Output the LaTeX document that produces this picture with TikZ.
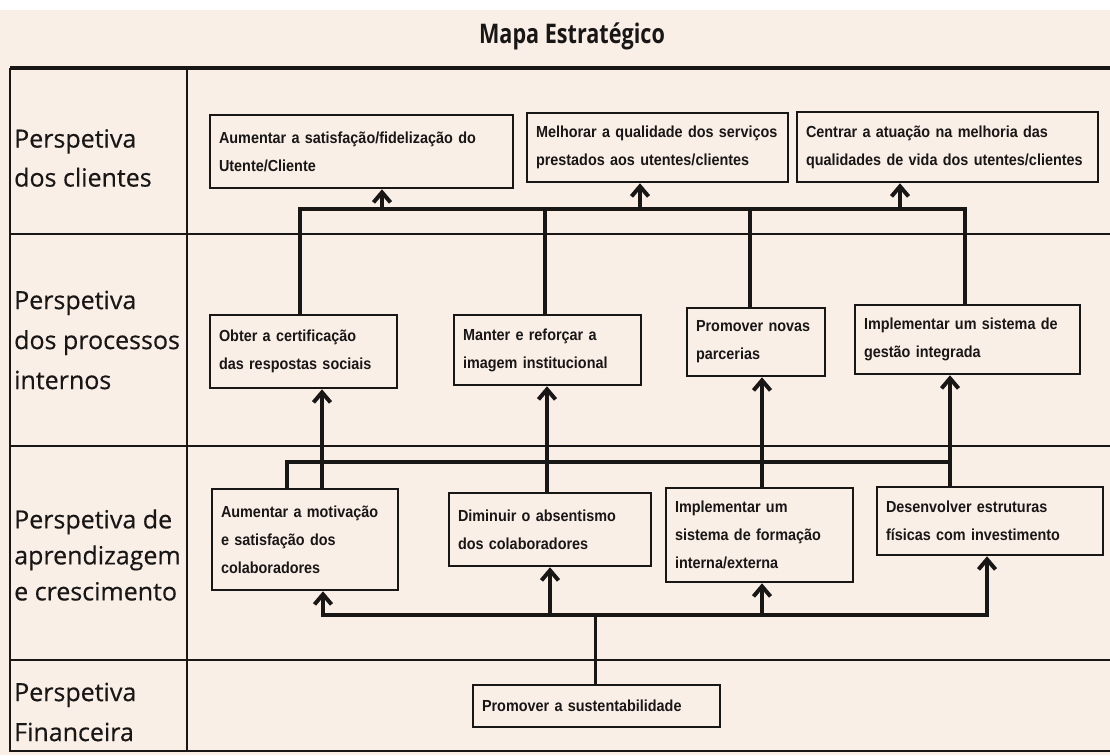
\documentclass[tikz,border=0pt]{standalone}
\usepackage{fontspec}
\setmainfont{Liberation Sans}
\newfontfamily\labfont{Open Sans}[FakeBold=0.4]
\newfontfamily\titfont{Open Sans}[FakeStretch=0.8]
\newfontfamily\bxfont{Liberation Sans}[FakeStretch=0.9]
\usetikzlibrary{arrows.meta}
\definecolor{paper}{RGB}{249,239,231}
\definecolor{ink}{RGB}{25,22,22}
\begin{document}
\begin{tikzpicture}[x=1pt,y=-1pt,
  tline/.style={draw=ink,line width=2.8pt},
  box/.style={draw=ink,line width=2.6pt,align=left,inner xsep=9pt,inner ysep=0pt,text=ink,
    font=\bxfont\bfseries\fontsize{16}{28}\selectfont},
  lab/.style={anchor=west,align=left,inner sep=0pt,text=ink},
  conn/.style={draw=ink,line width=4pt,line join=miter},
  arr/.style={conn,-{Straight Barb[length=10pt,width=17pt]}}]
\useasboundingbox (0,0) rectangle (1110,755);
\fill[paper] (0,10) rectangle (1110,755);
\fill[white] (0,0) rectangle (1110,10);

% table
\draw[tline,line width=3.6pt] (10,68) -- (1110,68);
\draw[tline] (10,68) -- (10,752);
\draw[tline] (187,68) -- (187,752);
\draw[tline] (10,234) -- (1110,234);
\draw[tline] (10,446) -- (1110,446);
\draw[tline] (10,660) -- (1110,660);
\draw[tline] (10,751) -- (1110,751);

% title
\node[text=ink,font=\titfont\bfseries\fontsize{27}{30}\selectfont] (title) at (572,36) {Mapa Estratégico};

% row labels
\node[lab,font=\labfont\fontsize{25}{39}\selectfont] (lab1) at (14,158) {Perspetiva\\dos clientes};
\node[lab,font=\labfont\fontsize{25}{40}\selectfont] (lab2) at (14,340) {Perspetiva\\dos processos\\internos};
\node[lab,font=\labfont\fontsize{25}{36}\selectfont] (lab3) at (14,555) {Perspetiva de\\aprendizagem\\e crescimento};
\node[lab,font=\labfont\fontsize{25}{40}\selectfont] (lab4) at (14,712) {Perspetiva\\Financeira};

% boxes
\node[box,minimum height=73pt,text width=285pt] (a1) at (361.5,151.5) {\mbox{Aumentar a satisfação/fidelização do}\\\mbox{Utente/Cliente}};
\node[box,minimum height=69pt,text width=243pt] (a2) at (657.5,147.5) {\mbox{Melhorar a qualidade dos serviços}\\\mbox{prestados aos utentes/clientes}};
\node[box,minimum height=70pt,text width=283pt] (a3) at (947.5,147) {\mbox{Centrar a atuação na melhoria das}\\\mbox{qualidades de vida dos utentes/clientes}};

\node[box,minimum height=73pt,text width=169pt] (b1) at (303.5,351.5) {\mbox{Obter a certificação}\\\mbox{das respostas sociais}};
\node[box,minimum height=70pt,text width=169pt] (b2) at (547.5,350) {\mbox{Manter e reforçar a}\\\mbox{imagem institucional}};
\node[box,minimum height=68pt,text width=120pt] (b3) at (756,342) {\mbox{Promover novas}\\\mbox{parcerias}};
\node[box,minimum height=69pt,text width=207pt] (b4) at (967.5,339.5) {\mbox{Implementar um sistema de}\\\mbox{gestão integrada}};

\node[box,minimum height=101pt,text width=168pt] (c1) at (305,539.5) {\mbox{Aumentar a motivação}\\\mbox{e satisfação dos}\\\mbox{colaboradores}};
\node[box,minimum height=73pt,text width=184pt] (c2) at (550,529.5) {\mbox{Diminuir o absentismo}\\\mbox{dos colaboradores}};
\node[box,minimum height=94pt,text width=169pt] (c3) at (759.5,535) {\mbox{Implementar um}\\\mbox{sistema de formação}\\\mbox{interna/externa}};
\node[box,minimum height=68pt,text width=208pt] (c4) at (990,521) {\mbox{Desenvolver estruturas}\\\mbox{físicas com investimento}};

\node[box,minimum height=42pt,text width=229pt] (d) at (596.5,706) {\mbox{Promover a sustentabilidade}};

% top connectors (row 2 -> row 1)
\coordinate (h1l) at (300,209);
\coordinate (h1r) at (965,209);
\coordinate (ha1) at (382,209);
\coordinate (ha2) at (640,209);
\coordinate (ha3) at (900,209);
\coordinate (hb2) at (545,209);
\coordinate (hb3) at (750,209);
\draw[conn] (h1l |- b1.north) -- (h1l) -- (h1r) -- (h1r |- b4.north);
\draw[conn] (hb2) -- (hb2 |- b2.north);
\draw[conn] (hb3) -- (hb3 |- b3.north);
\draw[arr] (ha1) -- (ha1 |- a1.south);
\draw[arr] (ha2) -- (ha2 |- a2.south);
\draw[arr] (ha3) -- (ha3 |- a3.south);

% middle connectors (row 3 -> row 2)
\coordinate (m0) at (287,462);
\coordinate (m1) at (322,462);
\coordinate (m2) at (547,462);
\coordinate (m3) at (762,462);
\coordinate (m4) at (950,462);
\draw[conn] (m0 |- c1.north) -- (m0) -- (m4);
\draw[arr] (m1 |- c1.north) -- (m1 |- b1.south);
\draw[arr] (m2 |- c2.north) -- (m2 |- b2.south);
\draw[arr] (m3 |- c3.north) -- (m3 |- b3.south);
\draw[arr] (m4 |- c4.north) -- (m4 |- b4.south);

% bottom connectors (row 4 -> row 3)
\coordinate (l0) at (595,615);
\coordinate (l1) at (323,615);
\coordinate (l2) at (550,615);
\coordinate (l3) at (762,615);
\coordinate (l4) at (987,615);
\draw[conn,line width=3pt] (l0 |- d.north) -- (l0);
\draw[arr] (l4) -- (l1) -- (l1 |- c1.south);
\draw[arr] (l1) -- (l4) -- (l4 |- c4.south);
\draw[arr] (l2) -- (l2 |- c2.south);
\draw[arr] (l3) -- (l3 |- c3.south);
\end{tikzpicture}
\end{document}
